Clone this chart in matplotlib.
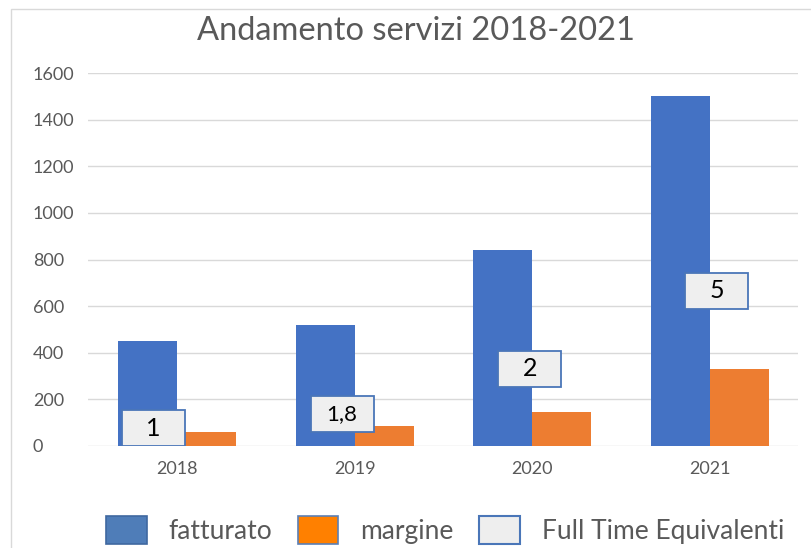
import matplotlib
matplotlib.use("Agg")
import matplotlib.pyplot as plt
from matplotlib.patches import Rectangle, Patch
import numpy as np

plt.rcParams['font.family'] = ['Lato', 'DejaVu Sans']

years = ["2018", "2019", "2020", "2021"]
fatturato = [450, 520, 840, 1500]
margine = [60, 85, 145, 330]
fte_labels = ["1", "1,8", "2", "5"]

# placement of FTE label boxes (layout only)
fte_box_x = [-0.133, 0.929, 1.986, 3.040]
fte_box_y = [77, 137, 332, 665]
fte_font = [18, 16, 18, 18]

blue = "#4472C4"
orange = "#ED7D31"
gray = "#595959"

fig = plt.figure(figsize=(8.12, 5.48), dpi=100)
fig.patch.set_facecolor("white")

# chart frame
fig.patches.append(Rectangle((11/812, -0.1), 2.0, (548-9)/548 + 0.1,
                             transform=fig.transFigure, fill=False,
                             edgecolor="#D9D9D9", lw=1.0))

ax = fig.add_axes([88.5/812, 1-446/548, 710/812, (446-73)/548])
x = np.arange(len(years))
w = 1/3
ax.bar(x - w/2, fatturato, width=w, color=blue, zorder=2)
ax.bar(x + w/2, margine, width=w, color=orange, zorder=2)

ax.set_xlim(-0.5, 3.5)
ax.set_ylim(0, 1600)
ax.set_yticks(np.arange(0, 1601, 200))
ax.set_yticklabels([str(v) for v in range(0, 1601, 200)], ha="left")
ax.set_xticks(x)
ax.set_xticklabels(years)
ax.tick_params(axis="y", length=0, pad=40, labelsize=13, labelcolor=gray)
ax.tick_params(axis="x", length=0, pad=11, labelsize=13, labelcolor=gray)
ax.grid(axis="y", color="#D9D9D9", lw=1.0, zorder=0)
for s in ax.spines.values():
    s.set_visible(False)

bw, bh = 63/177, 36/0.2331
for bx, by, lab, fs in zip(fte_box_x, fte_box_y, fte_labels, fte_font):
    ax.add_patch(Rectangle((bx - bw/2, by - bh/2), bw, bh,
                           facecolor="#EFEFEF", edgecolor="#4A76B8", lw=1.3, zorder=4))
    ax.text(bx, by, lab, ha="center", va="center", fontsize=fs, color="black", zorder=5)

fig.text(416/812, 1-31/548, "Andamento servizi 2018-2021", ha="center", va="center",
         fontsize=23.5, color=gray)

handles = [Patch(facecolor="#4F7DB8", edgecolor="#3F68A0", lw=1.2, label="fatturato"),
           Patch(facecolor="#FF8000", edgecolor="#5B7FB5", lw=1.2, label="margine"),
           Patch(facecolor="#EEEEEE", edgecolor="#4A76B8", lw=1.5, label="Full Time Equivalenti")]
leg = fig.legend(handles=handles, loc="center", bbox_to_anchor=(445/812, 1-530/548),
                 ncol=3, frameon=False, fontsize=19, handlelength=1.55, handleheight=1.29,
                 handletextpad=0.83, columnspacing=0.95, borderaxespad=0, borderpad=0)
for t in leg.get_texts():
    t.set_color(gray)

fig.savefig("out.png", dpi=100)
